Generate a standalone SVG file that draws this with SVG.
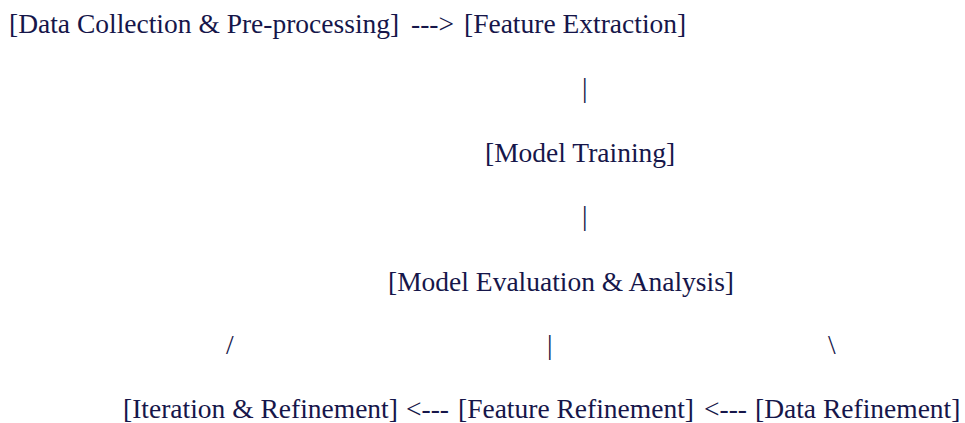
<svg xmlns="http://www.w3.org/2000/svg" width="965" height="423" viewBox="0 0 965 423">
<style>
text { font-family: "Liberation Serif", "Times New Roman", serif; font-size: 27.5px; fill: #16164a; }
</style>
<rect width="965" height="423" fill="#ffffff"/>
<g id="node-data-collection"><text x="9" y="33">[Data Collection &amp; Pre-processing]</text></g>
<g id="node-feature-extraction"><text x="464" y="33">[Feature Extraction]</text></g>
<g id="node-model-training"><text x="485" y="161.5">[Model Training]</text></g>
<g id="node-model-evaluation"><text x="388" y="291">[Model Evaluation &amp; Analysis]</text></g>
<g id="node-iteration-refinement"><text x="123" y="418">[Iteration &amp; Refinement]</text></g>
<g id="node-feature-refinement"><text x="458" y="418">[Feature Refinement]</text></g>
<g id="node-data-refinement"><text x="755" y="418">[Data Refinement]</text></g>
<g id="connectors">
<text x="411" y="33">---&gt;</text>
<text x="582" y="97">|</text>
<text x="582" y="225">|</text>
<text x="226" y="354">/</text>
<text x="547" y="354">|</text>
<text x="828" y="354">\</text>
<text x="406" y="418">&lt;---</text>
<text x="704" y="418">&lt;---</text>
</g>
</svg>
